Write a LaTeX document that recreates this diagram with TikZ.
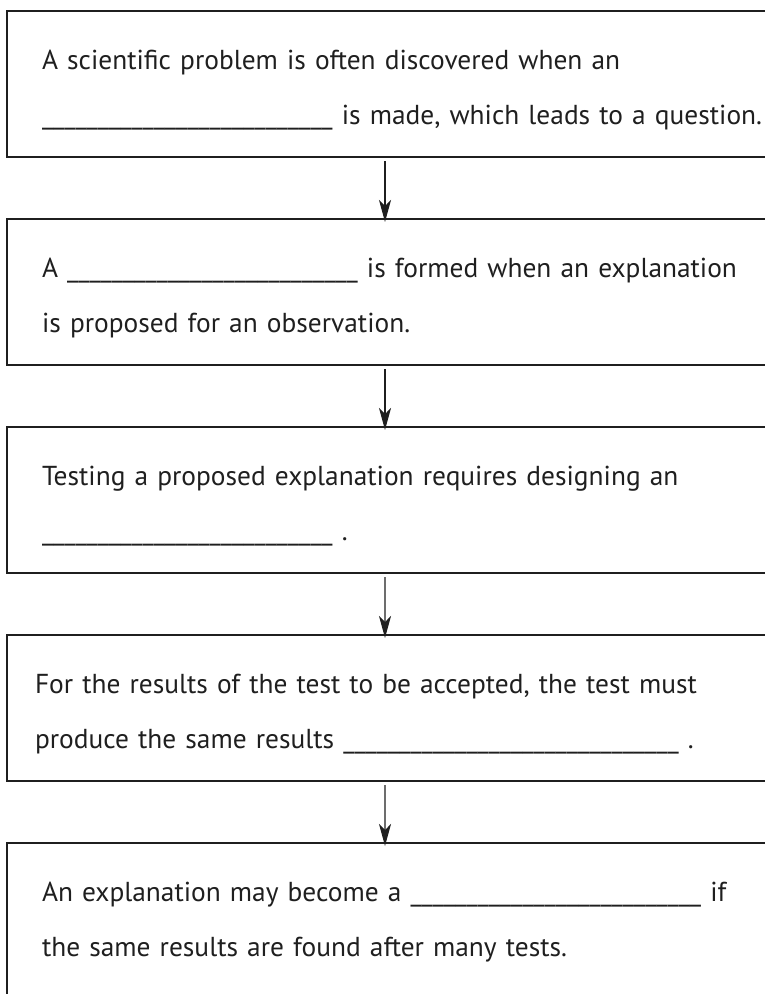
\documentclass[tikz,border=0pt]{standalone}
\usepackage{fontspec}
\setmainfont{PT Sans}
\usetikzlibrary{arrows.meta}
\newcommand{\blank}[1]{\foreach \i in {1,...,#1}{\_}}
\begin{document}
\begin{tikzpicture}[x=1bp, y=-1bp,
  box/.style={draw=black!88, line width=2.5bp, outer sep=0pt, anchor=north west,
    minimum height=146bp, text width=760bp, inner xsep=35bp, inner ysep=0pt,
    align=left, text=black!88, font=\fontsize{27.5}{55}\selectfont,
    execute at begin node=\rule{0pt}{31bp}},
  flow/.style={draw=black!88, line width=1.2bp, shorten <=4bp, shorten >=-3bp,
    -{Stealth[length=22bp,width=12bp,inset=6bp]}}]
\useasboundingbox (0,0) rectangle (765,994);
\node[box] (obs) at (7,11) {A scientific problem is often discovered when an\\
  \blank{26} is made, which leads to a question.};
\node[box] (hyp) at (7,219) {A \blank{26} is formed when an explanation\\
  is proposed for an observation.};
\node[box] (expt) at (7,427) {Testing a proposed explanation requires designing an\\
  \blank{26} .};
\node[box, inner xsep=28bp, text width=774bp] (rep) at (7,635) {For the results of the test to be accepted, the test must\\
  produce the same results \blank{30} .};
\node[box, minimum height=175bp] (theory) at (7,843) {An explanation may become a \blank{26} if\\
  the same results are found after many tests.\par\vspace*{29bp}};
% arrows between the steps
\draw[flow] ([xshift=-37bp]obs.south) -- ([xshift=-37bp]hyp.north);
\draw[flow] ([xshift=-37bp]hyp.south) -- ([xshift=-37bp]expt.north);
\draw[flow] ([xshift=-37bp]expt.south) -- ([xshift=-37bp]rep.north);
\draw[flow] ([xshift=-37bp]rep.south) -- ([xshift=-37bp]theory.north);
\end{tikzpicture}
\end{document}
